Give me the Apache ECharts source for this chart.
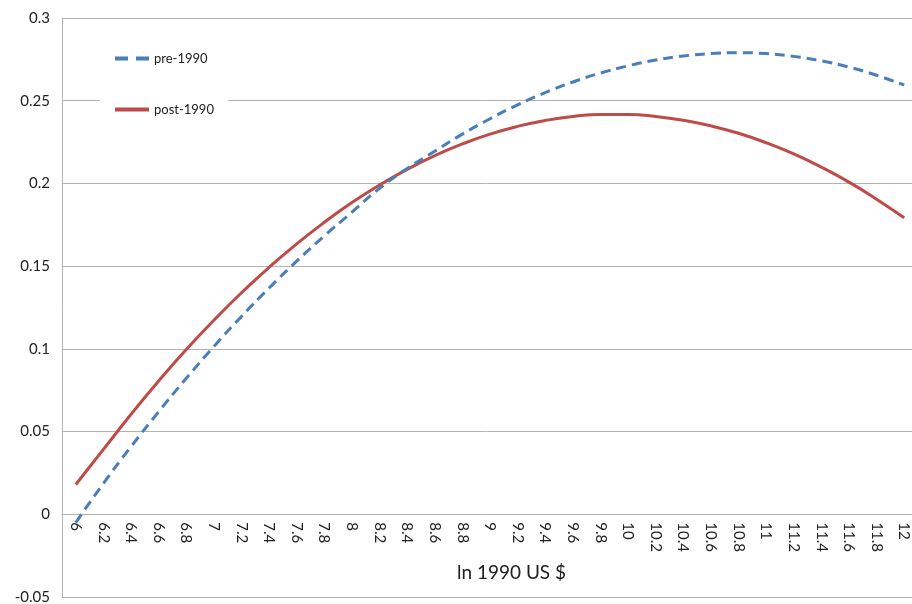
<!DOCTYPE html>
<html>
<head>
<meta charset="utf-8">
<script src="https://cdn.jsdelivr.net/npm/echarts@6/dist/echarts.min.js"></script>
<style>
html,body{margin:0;padding:0;background:#fff;}
#chart{width:912px;height:604px;}
</style>
</head>
<body>
<div id="chart"></div>
<script>
var categories = ['6','6.2','6.4','6.6','6.8','7','7.2','7.4','7.6','7.8','8','8.2','8.4','8.6','8.8','9','9.2','9.4','9.6','9.8','10','10.2','10.4','10.6','10.8','11','11.2','11.4','11.6','11.8','12'];
var pre1990 = [-0.005,0.0187,0.0409,0.062,0.0822,0.1014,0.1196,0.1368,0.153,0.1683,0.1826,0.197,0.209,0.2195,0.2298,0.2391,0.2475,0.2549,0.2613,0.2667,0.2711,0.2746,0.277,0.2785,0.279,0.2785,0.2768,0.2741,0.2703,0.2654,0.2594];
var post1990 = [0.018,0.0392,0.0605,0.0806,0.0996,0.1173,0.1339,0.1493,0.1635,0.1765,0.1884,0.199,0.2085,0.2168,0.2239,0.2298,0.2345,0.2381,0.2405,0.2417,0.2417,0.2405,0.2382,0.2348,0.2303,0.2246,0.2178,0.2098,0.2008,0.1905,0.1792];
var seriesNames = ['pre-1990','post-1990'];
var axisTitle = 'ln 1990 US $';

var FONT = 'Lato, "Liberation Sans", sans-serif';
var chart = echarts.init(document.getElementById('chart'), null, {renderer:'canvas'});
chart.setOption({
  animation:false,
  backgroundColor:'#ffffff',
  title:{
    text:axisTitle,
    left:452, top:558,
    textStyle:{fontFamily:FONT,fontSize:19,fontWeight:'normal',color:'#222'}
  },
  legend:{
    orient:'vertical',
    left:100, top:46,
    width:130,
    padding:[6,14,8,13],
    backgroundColor:'#ffffff',
    itemWidth:34, itemHeight:14,
    itemGap:38,
    itemStyle:{opacity:0},
    textStyle:{fontFamily:FONT,fontSize:13,color:'#222'},
    data:[
      {name:seriesNames[0], lineStyle:{width:4,type:[13,8]}},
      {name:seriesNames[1], lineStyle:{width:4}}
    ]
  },
  grid:{left:62, top:18, width:856, height:579, containLabel:false, outerBoundsMode:'none'},
  xAxis:{
    type:'category',
    data:categories,
    boundaryGap:true,
    offset:0,
    axisLine:{onZero:false,lineStyle:{color:'#b3b3b3',width:1}},
    axisTick:{show:false},
    axisLabel:{rotate:-90,margin:8,fontFamily:FONT,fontSize:15,color:'#222',interval:0},
    splitLine:{show:false}
  },
  yAxis:{
    type:'value',
    min:-0.05, max:0.3, interval:0.05,
    axisLine:{show:true,lineStyle:{color:'#b3b3b3',width:1}},
    axisTick:{show:false},
    axisLabel:{fontFamily:FONT,fontSize:15,color:'#222',margin:12},
    splitLine:{show:true,lineStyle:{color:'#b3b3b3',width:1}}
  },
  series:[
    {name:seriesNames[0],type:'line',data:pre1990,smooth:true,symbol:'none',
     lineStyle:{color:'#4a7ebb',width:3,type:[10,6]},itemStyle:{color:'#4a7ebb'},z:3},
    {name:seriesNames[1],type:'line',data:post1990,smooth:true,symbol:'none',
     lineStyle:{color:'#be4b48',width:3},itemStyle:{color:'#be4b48'},z:2}
  ]
});
// place the category axis on the y = 0 line, using the value axis scale
var yZero = chart.convertToPixel({yAxisIndex:0}, 0);
var yMinPx = chart.convertToPixel({yAxisIndex:0}, -0.05);
chart.setOption({xAxis:{offset: yZero - yMinPx}});
</script>
</body>
</html>
